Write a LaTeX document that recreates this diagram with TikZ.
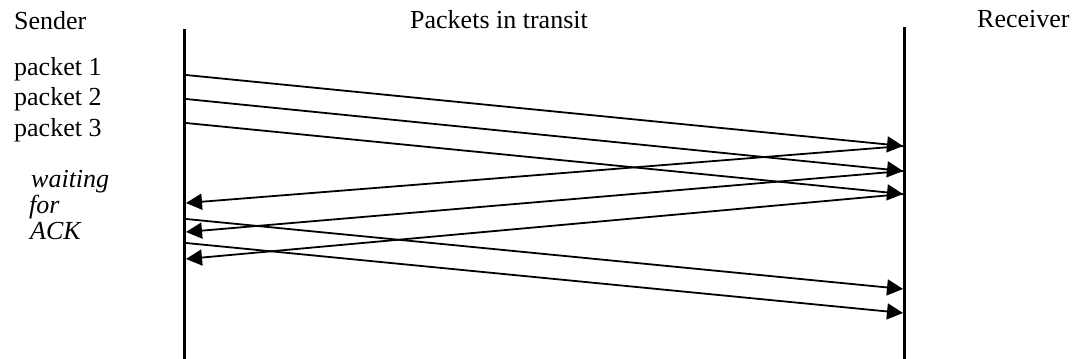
\documentclass[tikz,border=0pt]{standalone}
\usepackage{fontspec}
\setmainfont{Liberation Serif}
\usetikzlibrary{arrows.meta}
\begin{document}
\begin{tikzpicture}[x=1pt,y=-1pt,
  lbl/.style={anchor=base west,inner sep=0pt,font=\fontsize{26}{30}\selectfont},
  ilbl/.style={lbl,font=\fontsize{26}{30}\selectfont\itshape},
  lifeline/.style={line width=3pt},
  msg/.style={line width=1.8pt,-{Triangle[length=16pt,width=16pt]}},
  pt/.style={inner sep=0pt,minimum size=0pt}]
\useasboundingbox (0,0) rectangle (1077,359);
% lifelines
\coordinate (stop) at (184.5,29);
\coordinate (sbot) at (184.5,359);
\coordinate (rtop) at (904.5,27);
\coordinate (rbot) at (904.5,359);
\draw[lifeline] (stop) -- (sbot);
\draw[lifeline] (rtop) -- (rbot);
% labels
\node[lbl] (sender) at (14,29.5) {Sender};
\node[lbl,anchor=base] (transit) at (499,28) {Packets in transit};
\node[lbl] (receiver) at (977,27) {Receiver};
\node[lbl] (p1) at (14,75) {packet 1};
\node[lbl] (p2) at (14,105.5) {packet 2};
\node[lbl] (p3) at (14,136) {packet 3};
\node[ilbl] (w1) at (31,187) {waiting};
\node[ilbl] (w2) at (29,213) {for};
\node[ilbl] (w3) at (30,239) {ACK};
% endpoints
\coordinate (s1) at (186,75);
\coordinate (s2) at (186,99);
\coordinate (s3) at (186,123);
\coordinate (r1) at (903,146);
\coordinate (r2) at (903,171);
\coordinate (r3) at (903,194);
\coordinate (a1) at (186,203);
\coordinate (a2) at (186,232);
\coordinate (a3) at (186,259);
\coordinate (s4) at (186,219);
\coordinate (s5) at (186,243);
\coordinate (r4) at (903,289);
\coordinate (r5) at (903,313);
% messages
\draw[msg] (s1) -- (r1);
\draw[msg] (s2) -- (r2);
\draw[msg] (s3) -- (r3);
\draw[msg] (r1) -- (a1);
\draw[msg] (r2) -- (a2);
\draw[msg] (r3) -- (a3);
\draw[msg] (s4) -- (r4);
\draw[msg] (s5) -- (r5);
\end{tikzpicture}
\end{document}
